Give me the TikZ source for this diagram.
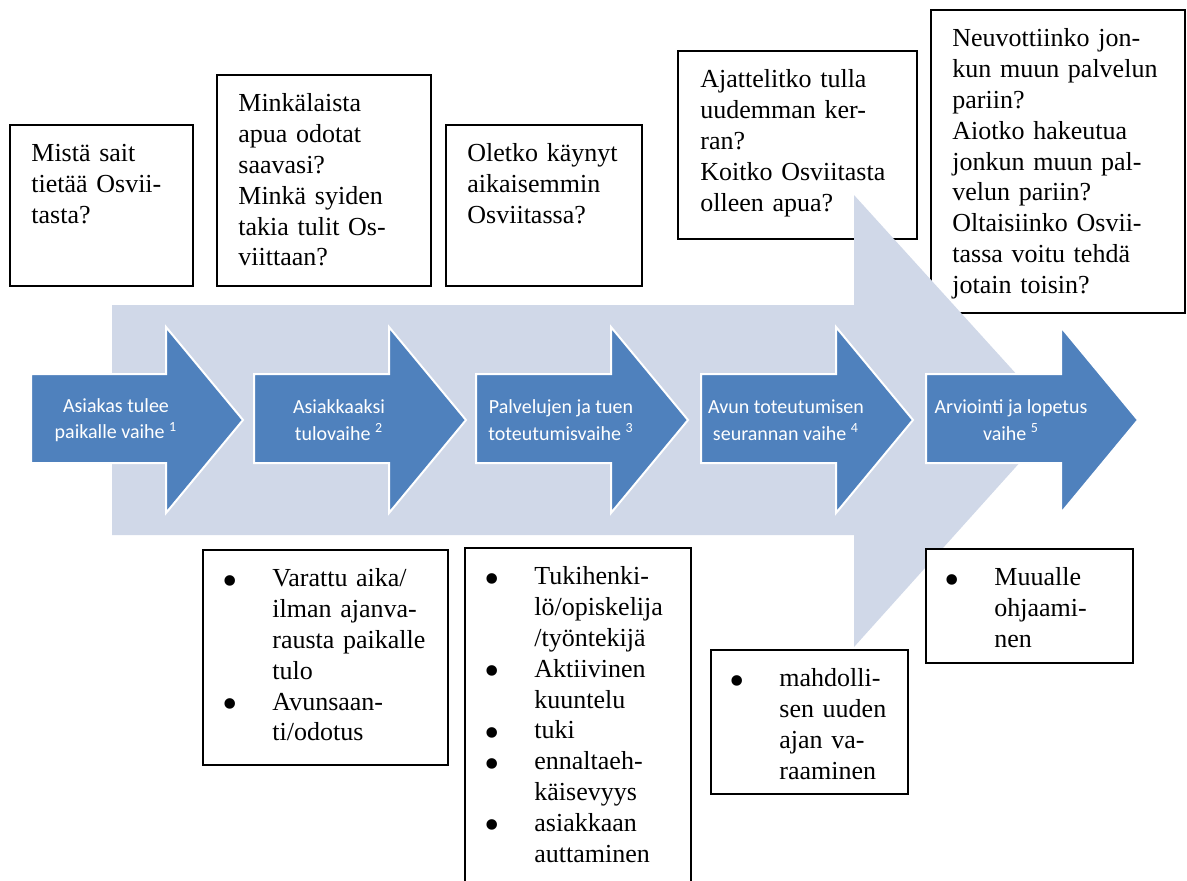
\documentclass[tikz,border=0pt]{standalone}
\usepackage{fontspec}
\setmainfont{Liberation Serif}
\newfontfamily\stagefont{Carlito}

\definecolor{stageblue}{RGB}{79,129,189}
\definecolor{flowgrey}{RGB}{208,216,232}

\tikzset{
  frame/.style={draw=black, line width=0.75pt},
  qtext/.style={anchor=north west, inner sep=0pt, align=left,
    font=\fontsize{13}{15.4}\selectfont},
  stage/.style={fill=stageblue, draw=white, line width=1pt, line join=miter},
  stagetext/.style={text=white, align=center, inner sep=0pt,
    font=\stagefont\fontsize{10}{13.3}\selectfont}
}
\newcommand{\itm}{\leavevmode\llap{\smash{\raisebox{-4.2pt}{\fontsize{22}{22}\selectfont\textbullet}}\hspace{17.2pt}}}

\begin{document}
\begin{tikzpicture}[x=0.5pt, y=-0.5pt]
        \useasboundingbox (0,0) rectangle (1187,880);

        % questions above the flow
        \draw[frame] (10,125) rectangle (193,286);
        \node[qtext, text width=81pt] (mista) at (31,140)
        {\strut Mistä sait\\tietää Osvii-\\tasta?};
        \draw[frame] (217,75) rectangle (431,286);
        \node[qtext, text width=96pt] (minka) at (238,90)
        {\strut Minkälaista\\apua odotat\\saavasi?\\Minkä syiden\\takia tulit Os-\\viittaan?};
        \draw[frame] (446,125) rectangle (642,286);
        \node[qtext, text width=87pt] (oletko) at (467,140)
        {\strut Oletko käynyt\\aikaisemmin\\Osviitassa?};
        \draw[frame] (678,51) rectangle (917,239);
        \node[qtext, text width=108pt] (ajattelitko) at (700,66)
        {\strut Ajattelitko tulla\\uudemman ker-\\ran?\\Koitko Osviitasta\\olleen apua?};
        \draw[frame] (931,10) rectangle (1185,313);
        \node[qtext, text width=116pt] (neuvottiinko) at (952,25)
        {\strut Neuvottiinko jon-\\kun muun palvelun\\pariin?\\Aiotko hakeutua\\jonkun muun pal-\\velun pariin?\\Oltaisiinko Osvii-\\tassa voitu tehdä\\jotain toisin?};

        % big background arrow
        \fill[flowgrey] (112,305) -- (854,305) -- (854,195) -- (1058,420)
        -- (854,647) -- (854,535) -- (112,535) -- cycle;

        % the five stages
        \foreach \sx/\n/\txt in {31/1/{Asiakas tulee\\paikalle vaihe \textsuperscript{1}},
          254/2/{Asiakkaaksi\\tulovaihe \textsuperscript{2}},
          476/3/{Palvelujen ja tuen\\toteutumisvaihe \textsuperscript{3}},
          701/4/{Avun toteutumisen\\seurannan vaihe \textsuperscript{4}},
          926/5/{Arviointi ja lopetus\\vaihe \textsuperscript{5}}}
        {
        \draw[stage, shift={(\sx,0)}] (0,374) -- (135,374) -- (135,327) -- (212,420)
        -- (135,513) -- (135,463) -- (0,463) -- cycle;
        \node[stagetext] (stage\n) at (\sx+85,420) {\txt};
        }

        % actions below the flow
        \draw[frame] (203,550) rectangle (448,765);
        \node[qtext, text width=88pt] (varattu) at (272,565)
        {\strut\itm Varattu aika/\\ilman ajanva-\\rausta paikalle\\tulo\\\itm Avunsaan-\\ti/odotus};
        \draw[frame] (465,548) rectangle (691,890);
        \node[qtext, text width=78pt] (tukihenkilo) at (534,563)
        {\strut\itm Tukihenki-\\lö/opiskelija\\/työntekijä\\\itm Aktiivinen\\kuuntelu\\\itm tuki\\\itm ennaltaeh-\\käisevyys\\\itm asiakkaan\\auttaminen};
        \draw[frame] (711,650) rectangle (908,794);
        \node[qtext, text width=64pt] (mahdollisen) at (779,665)
        {\strut\itm mahdolli-\\sen uuden\\ajan va-\\raaminen};
        \draw[frame, fill=white] (926,549) rectangle (1133,663);
        \node[qtext, text width=69pt] (muualle) at (994,564)
        {\strut\itm Muualle\\ohjaami-\\nen};
\end{tikzpicture}
\end{document}
